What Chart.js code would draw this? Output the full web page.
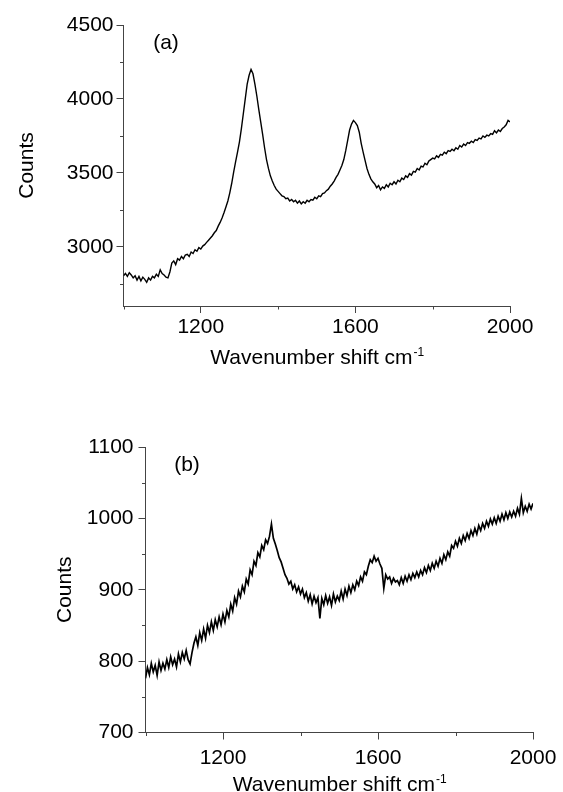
<!DOCTYPE html>
<html lang="en">
<head>
<meta charset="UTF-8">
<title>Raman spectra</title>
<style>
  body { margin: 0; background: #fff; }
  .painel { position: absolute; left: 0; width: 563px; height: 396px; }
</style>
</head>
<body>
<div class="painel" style="top:0"><canvas id="chartA" width="563" height="396"></canvas></div>
<div class="painel" style="top:396px"><canvas id="chartB" width="563" height="396"></canvas></div>

<script src="https://cdn.jsdelivr.net/npm/chart.js"></script>
<script>
  // espectro (a) - contagens a cada 5 cm-1, de 1000 a 2000
  var shiftStart = 1000;
  var shiftStep = 5;

  var countsA = [
    2805, 2820, 2800, 2825, 2810, 2790, 2805, 2775, 2800, 2770,
    2795, 2780, 2760, 2790, 2775, 2800, 2790, 2815, 2800, 2845,
    2820, 2810, 2795, 2790, 2830, 2890, 2905, 2880, 2920, 2910,
    2935, 2920, 2945, 2950, 2935, 2965, 2955, 2980, 2970, 2995,
    2985, 3005, 3015, 3030, 3045, 3060, 3075, 3095, 3110, 3140,
    3165, 3195, 3230, 3270, 3310, 3365, 3430, 3505, 3575, 3640,
    3710, 3800, 3900, 4000, 4100, 4160, 4200, 4170, 4100, 4020,
    3930, 3845, 3760, 3670, 3590, 3530, 3480, 3445, 3415, 3390,
    3375, 3360, 3345, 3340, 3325, 3330, 3310, 3320, 3305, 3315,
    3295, 3310, 3290, 3305, 3295, 3315, 3305, 3320, 3315, 3335,
    3325, 3345, 3340, 3360, 3365, 3380, 3390, 3410, 3425, 3445,
    3470, 3490, 3520, 3550, 3590, 3650, 3720, 3790, 3830, 3855,
    3840, 3820, 3775, 3700, 3640, 3585, 3530, 3490, 3460, 3440,
    3425, 3400, 3415, 3385, 3405, 3395, 3420, 3405, 3430, 3420,
    3440, 3425, 3450, 3440, 3465, 3455, 3480, 3470, 3495, 3485,
    3510, 3505, 3530, 3520, 3545, 3540, 3565, 3555, 3580, 3590,
    3600, 3595, 3615, 3605, 3625, 3620, 3640, 3630, 3650, 3645,
    3660, 3650, 3670, 3660, 3685, 3675, 3695, 3685, 3705, 3700,
    3715, 3705, 3725, 3720, 3735, 3730, 3750, 3740, 3755, 3750,
    3765, 3760, 3785, 3770, 3790, 3780, 3800, 3810, 3825, 3855,
    3845
  ];

  // espectro (b)
  var countsB = [
    776, 791, 781, 797, 785, 794, 780, 799, 787, 797,
    789, 802, 791, 806, 795, 803, 792, 810, 799, 812,
    803, 815, 802, 796, 812, 825, 834, 822, 840, 829,
    845, 832, 850, 840, 855, 843, 858, 848, 862, 851,
    866, 855, 871, 862, 880, 870, 889, 880, 898, 890,
    905, 897, 915, 908, 928, 921, 940, 934, 952, 946,
    962, 956, 970, 965, 975, 992, 972, 964, 955, 945,
    939, 930, 921, 916, 908, 912, 901, 907, 897, 904,
    894, 901, 889, 896, 884, 893, 880, 891, 882, 889,
    860, 888, 879, 892, 881, 890, 878, 894, 883, 891,
    885, 898, 887, 901, 892, 905, 896, 907, 900, 912,
    906, 918, 912, 925, 921, 933, 942, 938, 947, 940,
    944, 936, 930, 902, 921, 915, 918, 909, 916, 911,
    913, 907, 917, 909, 919, 912, 921, 914, 923, 917,
    925, 918, 927, 921, 931, 924, 934, 927, 937, 930,
    940, 933, 944, 937, 949, 942, 953, 947, 962, 958,
    968, 961, 972, 965, 976, 969, 979, 972, 983, 976,
    986, 978, 990, 983, 993, 986, 996, 989, 999, 992,
    1001, 993, 1003, 996, 1006, 998, 1008, 1000, 1009, 1002,
    1010, 1003, 1014, 1006, 1028, 1008, 1017, 1010, 1020, 1013,
    1021
  ];

  var xTicks = [1200, 1600, 2000];
  var xMinor = [1000, 1400, 1800];
  var yTicksA = [3000, 3500, 4000, 4500];
  var yMinorA = [2750, 3250, 3750, 4250];
  var yTicksB = [700, 800, 900, 1000, 1100];
  var yMinorB = [750, 850, 950, 1050];

  var fonte = '"Liberation Sans", Arial, sans-serif';
  var corEixo = '#444';

  // plugin: ticks menores, titulos dos eixos e rotulo do painel
  function decoracao(opts) {
    return {
      id: 'decoracao',
      afterDraw(chart) {
        var ctx = chart.ctx;
        var area = chart.chartArea;
        var sx = chart.scales.x;
        var sy = chart.scales.y;
        ctx.save();
        ctx.strokeStyle = corEixo;
        ctx.lineWidth = 1;
        ctx.beginPath();
        opts.xMinor.forEach(function (v) {
          var px = Math.round(sx.getPixelForValue(v)) + 0.5;
          ctx.moveTo(px, area.bottom);
          ctx.lineTo(px, area.bottom + 3.5);
        });
        opts.yMinor.forEach(function (v) {
          var py = Math.round(sy.getPixelForValue(v)) + 0.5;
          ctx.moveTo(area.left - 3.5, py);
          ctx.lineTo(area.left, py);
        });
        ctx.stroke();

        ctx.fillStyle = '#000';
        ctx.textBaseline = 'alphabetic';
        ctx.textAlign = 'left';
        var principal = 'Wavenumber shift cm';
        var sup = '-1';
        ctx.font = '21px ' + fonte;
        var w1 = ctx.measureText(principal).width;
        ctx.font = '12px ' + fonte;
        var w2 = ctx.measureText(sup).width;
        var x0 = (area.left + area.right) / 2 - (w1 + w2) / 2;
        ctx.font = '21px ' + fonte;
        ctx.fillText(principal, x0, opts.xTitleY);
        ctx.font = '12px ' + fonte;
        ctx.fillText(sup, x0 + w1 + 1, opts.xTitleY - 8);

        ctx.font = '21px ' + fonte;
        ctx.textAlign = 'center';
        ctx.textBaseline = 'middle';
        ctx.fillText(opts.painel, opts.painelX, opts.painelY);

        ctx.translate(opts.yTitleX, (area.top + area.bottom) / 2);
        ctx.rotate(-Math.PI / 2);
        ctx.font = '21px ' + fonte;
        ctx.fillText('Counts', 0, 0);
        ctx.restore();
      }
    };
  }

  function criarGrafico(idCanvas, counts, opts) {
    var pontos = counts.map(function (c, i) {
      return { x: shiftStart + i * shiftStep, y: c };
    });
    return new Chart(document.getElementById(idCanvas), {
      type: 'line',
      data: {
        datasets: [{
          data: pontos,
          borderColor: '#000',
          borderWidth: opts.espessura,
          pointRadius: 0,
          tension: 0
        }]
      },
      options: {
        responsive: false,
        animation: false,
        devicePixelRatio: 1,
        layout: { padding: { top: opts.padTop, right: opts.padRight, left: 0, bottom: 0 } },
        plugins: { legend: { display: false }, tooltip: { enabled: false } },
        scales: {
          x: {
            type: 'linear',
            min: 1000,
            max: 2000,
            grid: { drawOnChartArea: false, tickLength: 7, color: corEixo },
            border: { color: corEixo, width: 1 },
            ticks: {
              color: '#000',
              font: { family: fonte, size: 21 },
              padding: opts.xPad,
              maxRotation: 0,
              callback: function (v) { return String(v); }
            },
            afterBuildTicks: function (s) { s.ticks = xTicks.map(function (v) { return { value: v }; }); },
            afterFit: function (s) { s.height = opts.xHeight; }
          },
          y: {
            min: opts.yMin,
            max: opts.yMax,
            grid: { drawOnChartArea: false, tickLength: 7, color: corEixo },
            border: { color: corEixo, width: 1 },
            ticks: {
              color: '#000',
              font: { family: fonte, size: 21 },
              padding: opts.yPad,
              callback: function (v) { return String(v); }
            },
            afterBuildTicks: function (s) { s.ticks = opts.yTicks.map(function (v) { return { value: v }; }); },
            afterFit: function (s) { s.width = opts.yWidth; }
          }
        }
      },
      plugins: [decoracao(opts)]
    });
  }

  criarGrafico('chartA', countsA, {
    yMin: 2600, yMax: 4500, yTicks: yTicksA, xMinor: xMinor, yMinor: yMinorA,
    padTop: 25, padRight: 53, yWidth: 123.5, xHeight: 90,
    xPad: 2, yPad: 3, xTitleY: 364, yTitleX: 27, espessura: 1.4,
    painel: '(a)', painelX: 166, painelY: 43
  });

  criarGrafico('chartB', countsB, {
    yMin: 700, yMax: 1100, yTicks: yTicksB, xMinor: xMinor, yMinor: yMinorB,
    padTop: 51, padRight: 30, yWidth: 145.5, xHeight: 59.5,
    xPad: 6, yPad: 5, xTitleY: 395, yTitleX: 65, espessura: 1.7,
    painel: '(b)', painelX: 187, painelY: 69
  });
</script>
</body>
</html>
